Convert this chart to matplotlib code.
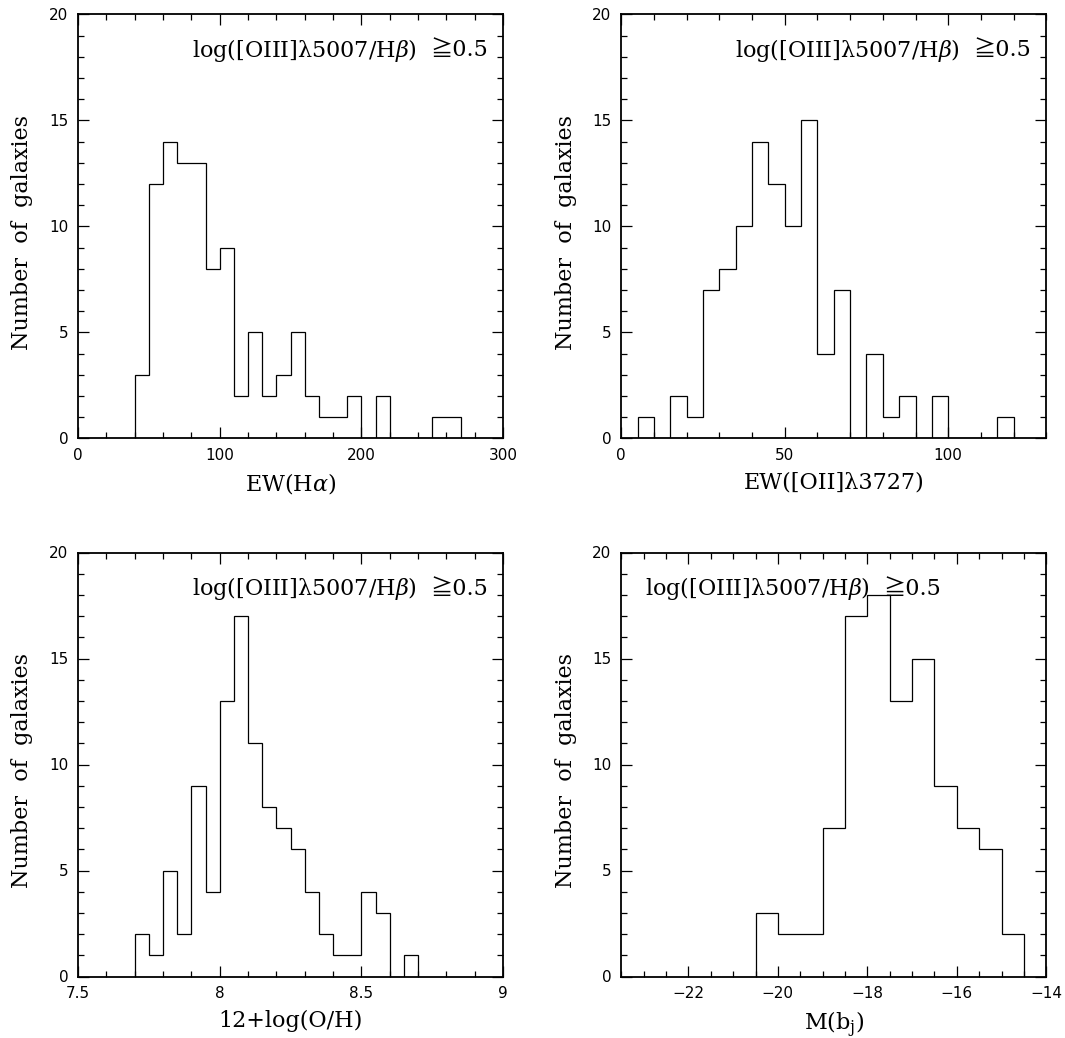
import matplotlib
matplotlib.use('Agg')
import matplotlib.pyplot as plt
from matplotlib.ticker import MultipleLocator
import numpy as np

# counts per bin
ewha_counts = [3, 12, 14, 13, 13, 8, 9, 2, 5, 2, 3, 5, 2, 1, 1, 2, 0, 2, 0, 0, 0, 1, 1]
ewha_start, ewha_width = 40., 10.

ewoii_counts = [1, 0, 2, 1, 7, 8, 10, 14, 12, 10, 15, 4, 7, 0, 4, 1, 2, 0, 2, 0, 0, 0, 1]
ewoii_start, ewoii_width = 5., 5.

oh_counts = [2, 1, 5, 2, 9, 4, 13, 17, 11, 8, 7, 6, 4, 2, 1, 1, 4, 3, 0, 1]
oh_start, oh_width = 7.7, 0.05

mb_counts = [3, 2, 2, 7, 17, 18, 13, 15, 9, 7, 6, 2]
mb_start, mb_width = -20.5, 0.5

note1 = r'log([OIII]λ5007/H$\beta$)'
note2 = '≧0.5'

plt.rcParams['font.family'] = ['DejaVu Serif', 'Noto Sans CJK JP', 'DejaVu Sans']
plt.rcParams['mathtext.fontset'] = 'dejavuserif'

fig = plt.figure(figsize=(10.65, 10.38), dpi=100)

W = 425 / 1065.
H = 424 / 1038.
pos = [(78 / 1065., 1 - 438.3 / 1038.), (621.3 / 1065., 1 - 438.3 / 1038.),
       (78 / 1065., 1 - 976.5 / 1038.), (621.3 / 1065., 1 - 976.5 / 1038.)]

panels = [
    (ewha_counts, ewha_start, ewha_width, (0, 300), 100, 20, r'EW(H$\alpha$)', 'right'),
    (ewoii_counts, ewoii_start, ewoii_width, (0, 130), 50, 10, 'EW([OII]λ3727)', 'right'),
    (oh_counts, oh_start, oh_width, (7.5, 9), 0.5, 0.1, '12+log(O/H)', 'right'),
    (mb_counts, mb_start, mb_width, (-23.5, -14), 2, 0.5, r'M(b$_{\rm j}$)', 'left'),
]

for (counts, start, width, xl, maj, mnr, xlab, ha), (l, b) in zip(panels, pos):
    ax = fig.add_axes([l, b, W, H])
    edges = start + width * np.arange(len(counts) + 1)
    ax.stairs(counts, edges, color='k', lw=0.9, baseline=0)
    ax.set_xlim(*xl)
    ax.set_ylim(0, 20)
    ax.xaxis.set_major_locator(MultipleLocator(maj))
    ax.xaxis.set_minor_locator(MultipleLocator(mnr))
    ax.yaxis.set_major_locator(MultipleLocator(5))
    ax.yaxis.set_minor_locator(MultipleLocator(1))
    ax.tick_params(which='both', direction='in', top=True, right=True, width=0.9)
    ax.tick_params(which='major', length=8, labelsize=11, pad=7)
    ax.tick_params(which='minor', length=4)
    for lab in ax.get_xticklabels() + ax.get_yticklabels():
        lab.set_family('DejaVu Sans')
    for s in ax.spines.values():
        s.set_linewidth(1.3)
    if maj == 0.5:
        ax.set_xticks([7.5, 8, 8.5, 9])
        ax.set_xticklabels(['7.5', '8', '8.5', '9'])
    ax.set_xlabel(xlab, fontsize=16, labelpad=6)
    ax.set_ylabel('Number  of  galaxies', fontsize=16)
    ax.yaxis.set_label_coords(-0.105, 0.485)
    if ha == 'right':
        t2 = ax.text(0.965, 0.915, note2, transform=ax.transAxes, ha='right', va='center', fontsize=16)
        ax.annotate(note1, xy=(0, 0.5), xycoords=t2, xytext=(-10, 0), textcoords='offset points',
                    ha='right', va='center', fontsize=16)
    else:
        t1 = ax.text(0.055, 0.915, note1, transform=ax.transAxes, ha='left', va='center', fontsize=16)
        ax.annotate(note2, xy=(1, 0.5), xycoords=t1, xytext=(10, 0), textcoords='offset points',
                    ha='left', va='center', fontsize=16)

plt.savefig('out.png', dpi=100)
